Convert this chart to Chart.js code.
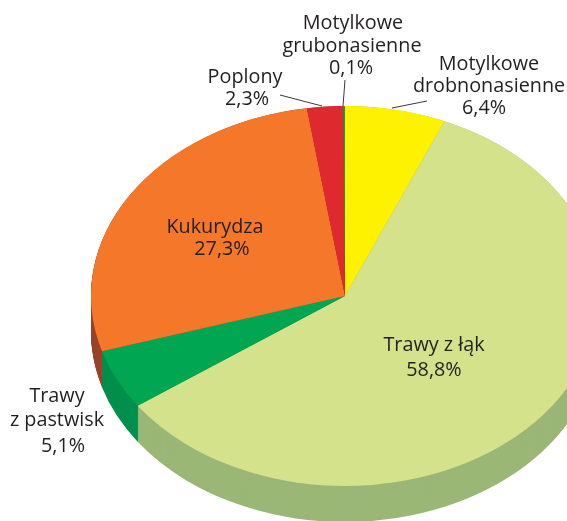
<!DOCTYPE html>
<html>
<head>
<meta charset="utf-8">
<style>
    html, body { margin: 0; padding: 0; background: #fff; overflow: hidden; }
    #wrap { position: relative; width: 567px; height: 521px; overflow: hidden; }
    canvas { display: block; }
</style>
<script src="https://cdn.jsdelivr.net/npm/chart.js@4"></script>
</head>
<body>
<!-- canvas is bigger than the page, the pie runs off the right and bottom -->
<div id="wrap"><canvas id="pie" width="599" height="560"></canvas></div>
<script>
const categories = ['Motylkowe drobnonasienne', 'Trawy z łąk', 'Trawy z pastwisk', 'Kukurydza', 'Poplony', 'Motylkowe grubonasienne'];
const values = [6.4, 58.8, 5.1, 27.3, 2.3, 0.1];
const topColors = ['#fff200', '#d3e28b', '#00a651', '#f5772a', '#de2a2e', '#00a651'];
const sideColors = ['#b0a700', '#9bb777', '#008f4c', '#9a432c', '#8f1d20', '#008f4c'];

// pie is drawn as a circle and squashed to look tilted
const squash = 190 / 254;
const depth = 36;
const textColor = '#231f20';
const font = '19.8px "Open Sans"';

const pct = i => values[i].toFixed(1).replace('.', ',') + '%';

// one entry per line of text: [text, centre x, baseline y]
const texts = [
    ['Motylkowe', 353, 29], ['grubonasienne', 352, 52], [pct(5), 351, 74],
    ['Motylkowe', 489, 70], ['drobnonasienne', 489, 92], [pct(0), 484, 114],
    ['Poplony', 245, 83], [pct(4), 247, 105],
    ['Kukurydza', 215, 233], [pct(3), 222, 255],
    ['Trawy z łąk', 434, 351], [pct(1), 434, 376],
    ['Trawy', 57, 402], ['z pastwisk', 57, 426], [pct(2), 63, 452]
];
const leaders = [
    [280, 95, 322, 106],
    [345, 80, 343, 106],
    [392, 108, 427, 101]
];

const tiltPlugin = {
    id: 'tilt',
    beforeDatasetsDraw(chart) {
        const ctx = chart.ctx;
        const arcs = chart.getDatasetMeta(0).data;
        const cx = arcs[0].x;
        const cy = arcs[0].y;
        ctx.save();
        ctx.translate(cx, cy);
        ctx.scale(1, squash);
        ctx.translate(-cx, -cy);
        for (let d = depth / squash; d > 0; d -= 1) {
            ctx.save();
            ctx.translate(0, d);
            arcs.forEach((arc, i) => {
                const saved = arc.options;
                arc.options = Object.assign({}, saved, { backgroundColor: sideColors[i], borderWidth: 0 });
                arc.draw(ctx);
                arc.options = saved;
            });
            ctx.restore();
        }
    },
    afterDatasetsDraw(chart) {
        const ctx = chart.ctx;
        ctx.restore();
        ctx.save();
        ctx.strokeStyle = '#3a3a3a';
        ctx.lineWidth = 1;
        leaders.forEach(l => {
            ctx.beginPath();
            ctx.moveTo(l[0], l[1]);
            ctx.lineTo(l[2], l[3]);
            ctx.stroke();
        });
        ctx.fillStyle = textColor;
        ctx.font = font;
        ctx.textAlign = 'center';
        ctx.textBaseline = 'alphabetic';
        texts.forEach(t => ctx.fillText(t[0], t[1], t[2]));
        ctx.restore();
    }
};

new Chart(document.getElementById('pie'), {
    type: 'pie',
    data: {
        labels: categories,
        datasets: [{
            data: values,
            backgroundColor: topColors,
            borderWidth: 0
        }]
    },
    options: {
        responsive: false,
        animation: false,
        layout: { padding: { left: 91, top: 42, right: 0, bottom: 10 } },
        plugins: { legend: { display: false }, tooltip: { enabled: false } }
    },
    plugins: [tiltPlugin]
});
</script>
</body>
</html>
